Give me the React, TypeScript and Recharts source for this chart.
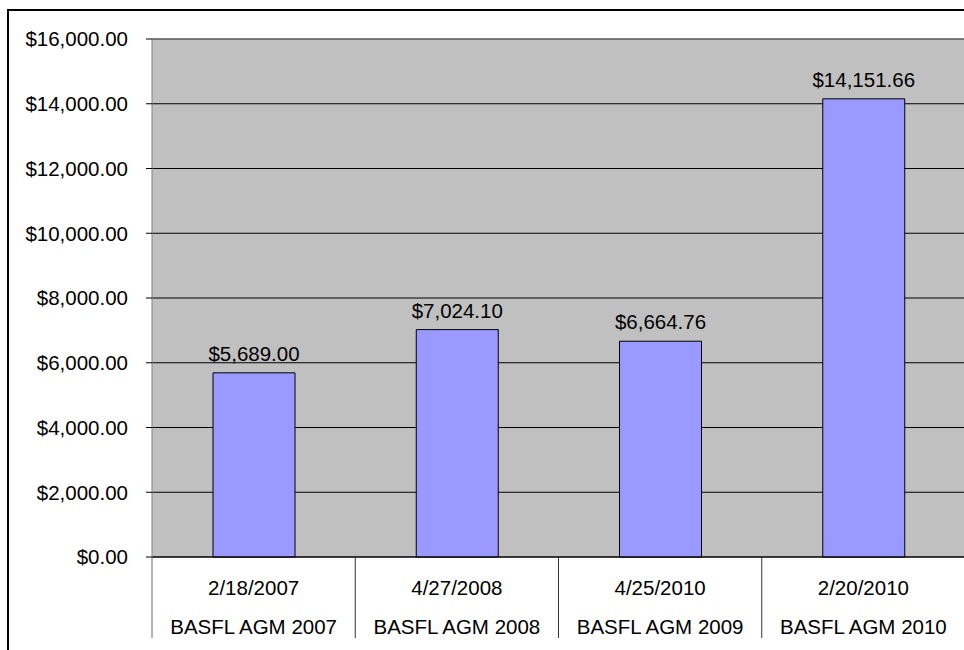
import { BarChart, Bar, XAxis, YAxis, CartesianGrid, LabelList, ReferenceLine } from "recharts";

const dates = ["2/18/2007", "4/27/2008", "4/25/2010", "2/20/2010"];
const names = ["BASFL AGM 2007", "BASFL AGM 2008", "BASFL AGM 2009", "BASFL AGM 2010"];
const amounts = [5689.0, 7024.1, 6664.76, 14151.66];
const yTicks = [0, 2000, 4000, 6000, 8000, 10000, 12000, 14000, 16000];

const data = names.map((name, i) => ({ name, date: dates[i], amount: amounts[i] }));

const FONT = "'Liberation Sans', Arial, Helvetica, sans-serif";
const FS = 20.5;

function money(v: number): string {
  return "$" + Number(v).toLocaleString("en-US", { minimumFractionDigits: 2, maximumFractionDigits: 2 });
}

function CategoryTick(props: any) {
  const { x, y, payload, index } = props;
  const half = payload?.offset ?? 0;
  return (
    <g>
      <line x1={x - half} y1={y} x2={x - half} y2={y + 81} stroke={index === 0 ? "#666" : "#333"} strokeWidth={1} />
      <text x={x} y={y + 38} textAnchor="middle" fontSize={FS} fontFamily={FONT} fill="#000">
        {dates[index]}
      </text>
      <text x={x} y={y + 77} textAnchor="middle" fontSize={FS} fontFamily={FONT} fill="#000">
        {payload.value}
      </text>
    </g>
  );
}

export default function App() {
  return (
    <div style={{ position: "relative", width: 964, height: 650, overflow: "hidden", background: "#fff" }}>
      <style>{"body{margin:0}"}</style>
      <div
        style={{
          position: "absolute",
          left: 7,
          top: 9,
          width: 1000,
          height: 1000,
          borderTop: "2px solid #000",
          borderLeft: "2px solid #000",
        }}
      />
      <div style={{ position: "absolute", left: 0, top: 0 }}>
        <BarChart width={965} height={650} data={data} margin={{ top: 39, right: 0, bottom: 0, left: 0 }}>
          <CartesianGrid vertical={false} stroke="#000" strokeOpacity={1} fill="#C0C0C0" fillOpacity={1} />
          <ReferenceLine y={16000} stroke="#808080" ifOverflow="extendDomain" />
          <XAxis
            dataKey="name"
            height={93}
            interval={0}
            tickSize={0}
            tickMargin={0}
            tickLine={false}
            axisLine={{ stroke: "#000" }}
            tick={<CategoryTick />}
          />
          <YAxis
            width={152}
            domain={[0, 16000]}
            ticks={yTicks}
            tickSize={6}
            tickMargin={18}
            tickFormatter={money}
            axisLine={{ stroke: "#808080" }}
            tickLine={{ stroke: "#000" }}
            tick={{ fill: "#000", fontSize: FS, fontFamily: FONT }}
          />
          <Bar dataKey="amount" fill="#9999FF" stroke="#000" strokeWidth={1} barSize={82} isAnimationActive={false}>
            <LabelList
              dataKey="amount"
              position="top"
              offset={12}
              formatter={(v: any) => money(v)}
              style={{ fill: "#000", fontSize: FS, fontFamily: FONT }}
            />
          </Bar>
        </BarChart>
      </div>
    </div>
  );
}
